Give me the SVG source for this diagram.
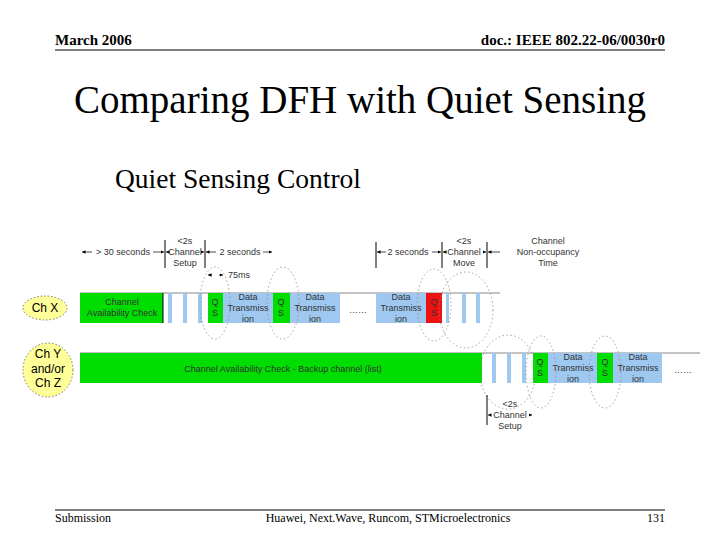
<svg xmlns="http://www.w3.org/2000/svg" width="720" height="540" viewBox="0 0 720 540">
<style>
.t{font-family:"Liberation Serif",serif;fill:#000}
.s{font-family:"Liberation Sans",sans-serif;font-size:9px;fill:#333;text-anchor:middle}
.c{font-family:"Liberation Sans",sans-serif;font-size:12px;fill:#000;text-anchor:middle}
.g{fill:#00dd00}.b{fill:#9ec8f0}.r{fill:#ee1111}
.ov{fill:none;stroke:#a08080;stroke-width:0.8;stroke-dasharray:1.5 2.5}
.tk{stroke:#000;stroke-width:1}
.ar{stroke:#000;stroke-width:0.7;fill:none}
</style>
<defs>
<marker id="ah" viewBox="0 0 6 6" refX="6" refY="3" markerWidth="5" markerHeight="5" orient="auto-start-reverse"><path d="M0,0L6,3L0,6z" fill="#000"/></marker>
</defs>
<rect width="720" height="540" fill="#fff"/>
<text class="t" x="55" y="45" font-size="15" font-weight="bold">March 2006</text>
<text class="t" x="665" y="45" font-size="15" font-weight="bold" text-anchor="end">doc.: IEEE 802.22-06/0030r0</text>
<line x1="55" y1="50" x2="665" y2="50" stroke="#000"/>
<text class="t" x="360" y="113" font-size="39" text-anchor="middle">Comparing DFH with Quiet Sensing</text>
<text class="t" x="115" y="188" font-size="27.5">Quiet Sensing Control</text>
<line x1="55" y1="510" x2="665" y2="510" stroke="#000"/>
<text class="t" x="55" y="522" font-size="12">Submission</text>
<text class="t" x="388" y="522" font-size="12" text-anchor="middle">Huawei, Next.Wave, Runcom, STMicroelectronics</text>
<text class="t" x="665" y="522" font-size="12" text-anchor="end">131</text>

<g id="chx"><ellipse cx="45" cy="308" rx="22" ry="12" fill="#ffff99" stroke="#555" stroke-width="0.8" stroke-dasharray="1.5 2"/><text class="c" x="45" y="312">Ch X</text></g>
<g id="chy"><ellipse cx="48" cy="370" rx="25" ry="27" fill="#ffff99" stroke="#555" stroke-width="0.8" stroke-dasharray="1.5 2"/><text class="c" x="48" y="358">Ch Y</text><text class="c" x="48" y="373">and/or</text><text class="c" x="48" y="387">Ch Z</text></g>

<g id="rowx">
<line x1="80" y1="293" x2="500" y2="293" stroke="#888"/>
<rect class="g" x="80" y="293" width="83" height="30"/>
<line x1="163" y1="293" x2="163" y2="323" stroke="#000"/>
<text class="s" x="122" y="305">Channel</text><text class="s" x="122" y="316">Availability Check</text>
<rect class="b" x="168" y="293" width="4" height="30"/>
<rect class="b" x="183" y="293" width="4" height="30"/>
<rect class="b" x="198" y="293" width="4" height="30"/>
<rect class="g" x="208" y="293" width="15" height="30"/>
<text class="s" x="215" y="305">Q</text><text class="s" x="215" y="316">S</text>
<rect class="b" x="223" y="293" width="50" height="30"/>
<text class="s" x="248" y="300">Data</text><text class="s" x="248" y="311">Transmiss</text><text class="s" x="248" y="322">ion</text>
<rect class="g" x="273" y="293" width="17" height="30"/>
<text class="s" x="281" y="305">Q</text><text class="s" x="281" y="316">S</text>
<rect class="b" x="290" y="293" width="50" height="30"/>
<text class="s" x="315" y="300">Data</text><text class="s" x="315" y="311">Transmiss</text><text class="s" x="315" y="322">ion</text>
<text class="s" x="358" y="313">……</text>
<rect class="b" x="376" y="293" width="50" height="30"/>
<text class="s" x="401" y="300">Data</text><text class="s" x="401" y="311">Transmiss</text><text class="s" x="401" y="322">ion</text>
<rect class="r" x="426" y="293" width="16" height="30"/>
<text class="s" x="434" y="305">Q</text><text class="s" x="434" y="316">S</text>
<rect class="b" x="446" y="293" width="3" height="30"/>
<rect class="b" x="462" y="293" width="4" height="30"/>
<rect class="b" x="476" y="293" width="4" height="30"/>
</g>

<g id="rowy">
<line x1="80" y1="353" x2="700" y2="353" stroke="#888"/>
<rect class="g" x="80" y="353" width="402" height="30"/>
<text class="s" x="283" y="372">Channel Availability Check - Backup channel (list)</text>
<rect class="b" x="492" y="353" width="4" height="30"/>
<rect class="b" x="507" y="353" width="4" height="30"/>
<rect class="b" x="522" y="353" width="4" height="30"/>
<rect class="g" x="533" y="353" width="15" height="30"/>
<text class="s" x="540" y="365">Q</text><text class="s" x="540" y="376">S</text>
<rect class="b" x="548" y="353" width="49" height="30"/>
<text class="s" x="573" y="360">Data</text><text class="s" x="573" y="371">Transmiss</text><text class="s" x="573" y="382">ion</text>
<rect class="g" x="597" y="353" width="16" height="30"/>
<text class="s" x="605" y="365">Q</text><text class="s" x="605" y="376">S</text>
<rect class="b" x="613" y="353" width="49" height="30"/>
<text class="s" x="638" y="360">Data</text><text class="s" x="638" y="371">Transmiss</text><text class="s" x="638" y="382">ion</text>
<text class="s" x="683" y="373">……</text>
</g>

<g id="ovals">
<ellipse class="ov" cx="215" cy="303" rx="15" ry="36"/>
<ellipse class="ov" cx="283" cy="303" rx="16" ry="36"/>
<ellipse class="ov" cx="434" cy="305" rx="17" ry="36"/>
<ellipse class="ov" cx="466" cy="310" rx="27" ry="38"/>
<ellipse class="ov" cx="508" cy="372" rx="28" ry="37"/>
<ellipse class="ov" cx="541" cy="372" rx="15" ry="36"/>
<ellipse class="ov" cx="605" cy="372" rx="16" ry="36"/>
</g>

<g id="connectors">
<line class="tk" x1="165" y1="240" x2="165" y2="268"/>
<line class="tk" x1="205" y1="240" x2="205" y2="268"/>
<line class="tk" x1="376" y1="242" x2="376" y2="268"/>
<line class="tk" x1="442" y1="242" x2="442" y2="268"/>
<line class="tk" x1="487" y1="242" x2="487" y2="268"/>
<line class="tk" x1="487" y1="395" x2="487" y2="425"/>
<line class="ar" x1="82" y1="252" x2="92" y2="252" marker-start="url(#ah)"/>
<line class="ar" x1="153" y1="252" x2="164" y2="252" marker-end="url(#ah)"/>
<line class="ar" x1="166" y1="252" x2="168" y2="252" marker-start="url(#ah)"/>
<line class="ar" x1="202" y1="252" x2="204" y2="252" marker-end="url(#ah)"/>
<line class="ar" x1="206" y1="252" x2="216" y2="252" marker-start="url(#ah)"/>
<line class="ar" x1="263" y1="252" x2="272" y2="252" marker-end="url(#ah)"/>
<line class="ar" x1="208" y1="275" x2="212" y2="275" marker-start="url(#ah)"/>
<line class="ar" x1="219" y1="275" x2="223" y2="275" marker-end="url(#ah)"/>
<line class="ar" x1="377" y1="252" x2="386" y2="252" marker-start="url(#ah)"/>
<line class="ar" x1="432" y1="252" x2="441" y2="252" marker-end="url(#ah)"/>
<line class="ar" x1="443" y1="252" x2="445" y2="252" marker-start="url(#ah)"/>
<line class="ar" x1="483" y1="252" x2="486" y2="252" marker-end="url(#ah)"/>
<line class="ar" x1="488" y1="252" x2="500" y2="252" marker-start="url(#ah)"/>
<line class="ar" x1="488" y1="415" x2="490" y2="415" marker-start="url(#ah)"/>
<line class="ar" x1="530" y1="415" x2="532" y2="415" marker-end="url(#ah)"/>
</g>

<g id="labels">
<text class="s" x="123" y="255">&gt; 30 seconds</text>
<text class="s" x="185" y="244">&lt;2s</text><text class="s" x="185" y="255">Channel</text><text class="s" x="185" y="266">Setup</text>
<text class="s" x="240" y="255">2 seconds</text>
<text class="s" x="239" y="278">75ms</text>
<text class="s" x="408" y="255">2 seconds</text>
<text class="s" x="464" y="244">&lt;2s</text><text class="s" x="464" y="255">Channel</text><text class="s" x="464" y="266">Move</text>
<text class="s" x="548" y="244">Channel</text><text class="s" x="548" y="255">Non-occupancy</text><text class="s" x="548" y="266">Time</text>
<text class="s" x="510" y="407">&lt;2s</text><text class="s" x="510" y="418">Channel</text><text class="s" x="510" y="429">Setup</text>
</g>
</svg>
